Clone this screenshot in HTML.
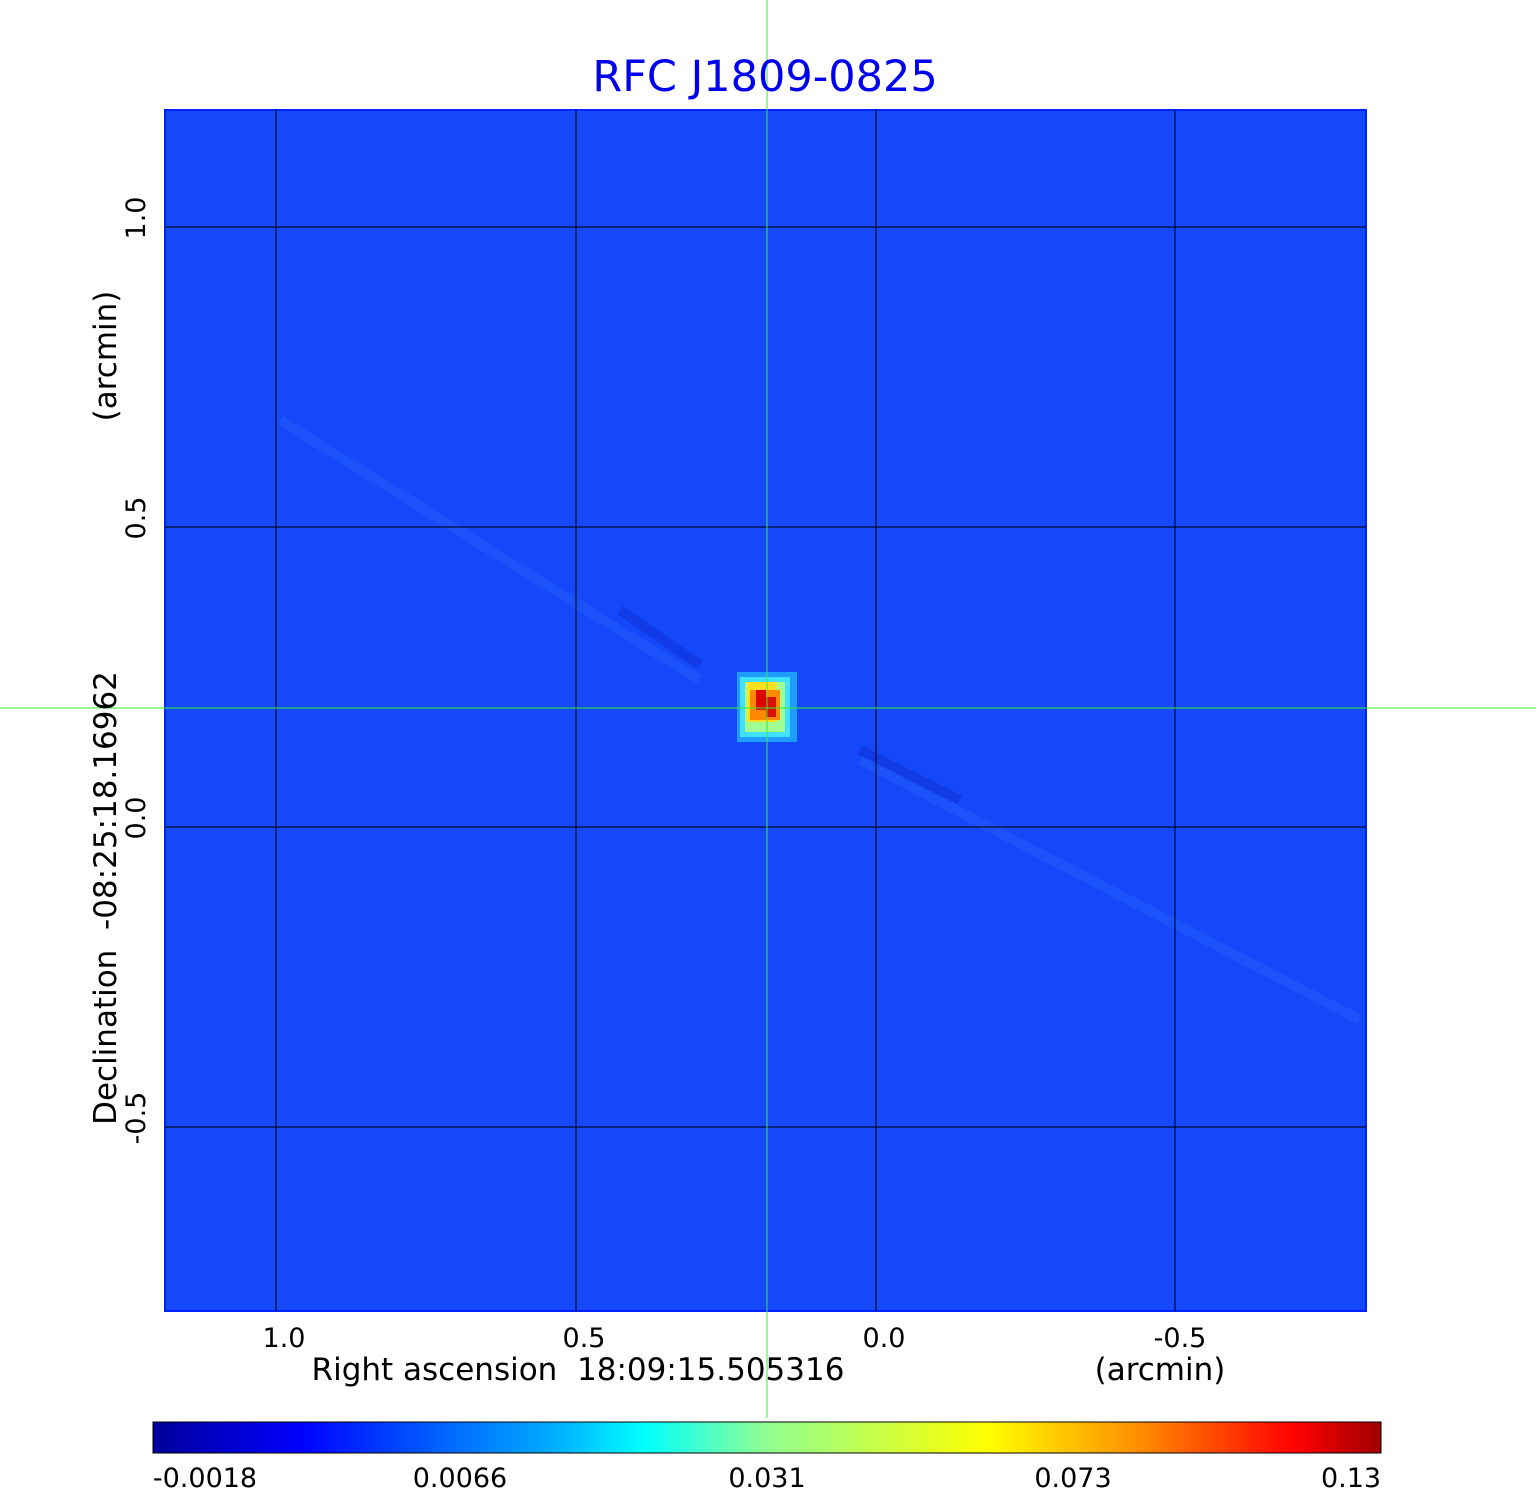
<!DOCTYPE html>
<html><head><meta charset="utf-8"><style>body{margin:0;background:#fff}svg{display:block}</style></head><body>
<svg width="1536" height="1511" xmlns="http://www.w3.org/2000/svg" font-family="DejaVu Sans, Liberation Sans, sans-serif">
<defs>
<linearGradient id="cb" x1="0" x2="1" y1="0" y2="0">
<stop offset="0" stop-color="#00009a"/>
<stop offset="0.12" stop-color="#0000ff"/>
<stop offset="0.25" stop-color="#0070ff"/>
<stop offset="0.33" stop-color="#00b0ff"/>
<stop offset="0.4" stop-color="#00ffff"/>
<stop offset="0.5" stop-color="#90ff90"/>
<stop offset="0.68" stop-color="#ffff00"/>
<stop offset="0.8" stop-color="#ff9000"/>
<stop offset="0.93" stop-color="#ff0000"/>
<stop offset="1" stop-color="#a00000"/>
</linearGradient>
</defs>
<rect x="165" y="110" width="1201" height="1201" fill="#1548f8" stroke="#0022ff" stroke-width="2"/>
<path d="M280 420 L700 680 M860 760 L1360 1020" stroke="#2a66ff" stroke-width="10" opacity="0.35"/>
<path d="M620 610 L700 665 M860 750 L960 800" stroke="#0a2ad0" stroke-width="10" opacity="0.4"/>
<g>
<rect x="737" y="672" width="60" height="70" fill="#1e9cff"/>
<rect x="740" y="677" width="50" height="60" fill="#40e0ff"/>
<rect x="745" y="682" width="40" height="50" fill="#a0ff90"/>
<rect x="747" y="682" width="30" height="40" fill="#ffe020"/>
<rect x="750" y="690" width="30" height="30" fill="#ff8a00"/>
<rect x="756" y="690" width="10" height="20" fill="#e00000"/>
<rect x="766" y="697" width="10" height="20" fill="#d81000"/>
</g>
<g stroke="#000" stroke-width="1">
<line x1="276" y1="110" x2="276" y2="1311"/><line x1="576" y1="110" x2="576" y2="1311"/>
<line x1="876" y1="110" x2="876" y2="1311"/><line x1="1175" y1="110" x2="1175" y2="1311"/>
<line x1="165" y1="227" x2="1366" y2="227"/><line x1="165" y1="527" x2="1366" y2="527"/>
<line x1="165" y1="827" x2="1366" y2="827"/><line x1="165" y1="1127" x2="1366" y2="1127"/>
</g>
<line x1="767" y1="0" x2="767" y2="1418" stroke="#33ee33" stroke-width="1"/>
<line x1="0" y1="708" x2="1536" y2="708" stroke="#33ee33" stroke-width="1"/>
<text x="765" y="91" font-size="43" fill="#0000ee" text-anchor="middle">RFC J1809-0825</text>
<g font-size="27" fill="#000" text-anchor="middle">
<text x="284" y="1347">1.0</text><text x="584" y="1347">0.5</text><text x="884" y="1347">0.0</text><text x="1180" y="1347">-0.5</text>
</g>
<text x="578" y="1380" font-size="31" text-anchor="middle" xml:space="preserve" style="white-space:pre">Right ascension  18:09:15.505316</text>
<text x="1160" y="1380" font-size="31" text-anchor="middle">(arcmin)</text>
<g font-size="27" text-anchor="middle">
<text transform="translate(145,218) rotate(-90)">1.0</text>
<text transform="translate(145,518) rotate(-90)">0.5</text>
<text transform="translate(145,818) rotate(-90)">0.0</text>
<text transform="translate(145,1118) rotate(-90)">-0.5</text>
</g>
<text transform="translate(116,898) rotate(-90)" font-size="31" text-anchor="middle" xml:space="preserve" style="white-space:pre">Declination  -08:25:18.16962</text>
<text transform="translate(116,356) rotate(-90)" font-size="31" text-anchor="middle">(arcmin)</text>
<rect x="153" y="1422" width="1228" height="31" fill="url(#cb)" stroke="#000" stroke-width="1"/>
<g font-size="27" text-anchor="middle">
<text x="205" y="1487">-0.0018</text><text x="460" y="1487">0.0066</text><text x="767" y="1487">0.031</text><text x="1073" y="1487">0.073</text><text x="1351" y="1487">0.13</text>
</g>
</svg>
</body></html>
